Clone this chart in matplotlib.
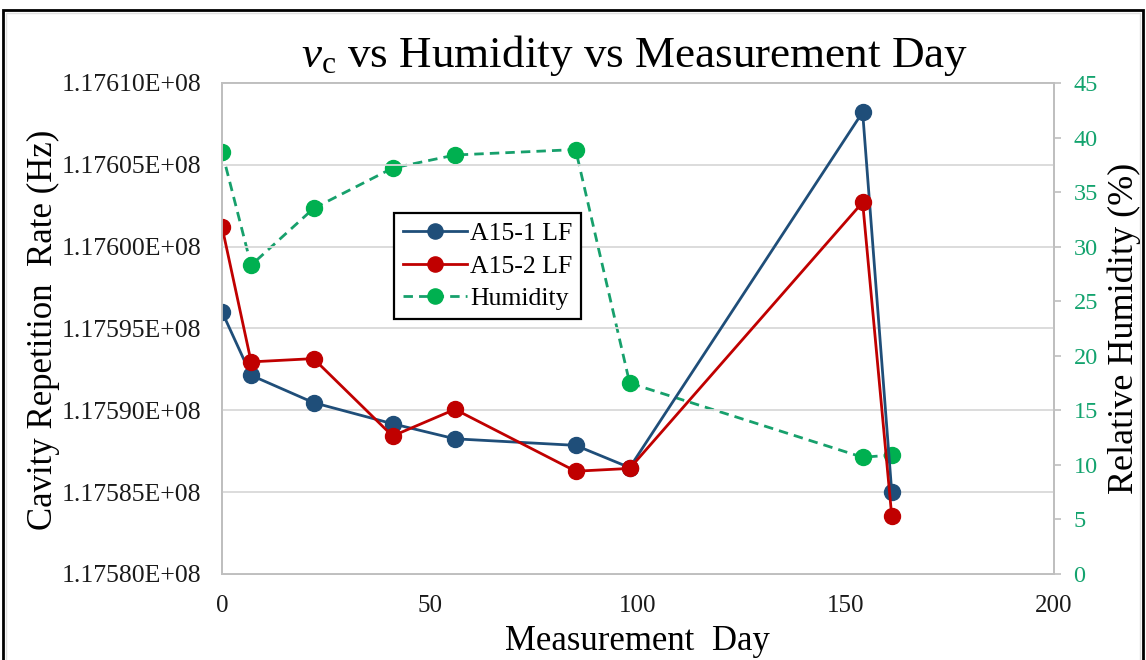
import matplotlib
matplotlib.use("Agg")
import matplotlib.pyplot as plt
from matplotlib.ticker import FuncFormatter, MultipleLocator
from matplotlib.patches import Rectangle

# ---- data ----
days = [0, 7, 22, 41, 56, 85, 98, 154, 161]
a15_1_lf = [117596020, 117592140, 117590470, 117589180, 117588260,
            117587860, 117586500, 117608220, 117585000]
a15_2_lf = [117601220, 117592960, 117593160, 117588430, 117590060,
            117586280, 117586450, 117602710, 117583530]
humidity = [38.7, 28.3, 33.5, 37.2, 38.4, 38.9, 17.5, 10.7, 10.9]

series_labels = ["A15-1 LF", "A15-2 LF", "Humidity"]
title = r"$\mathit{v}_\mathrm{c}$ vs Humidity vs Measurement Day"
xlabel = "Measurement  Day"
ylabel_left = "Cavity Repetition  Rate (Hz)"
ylabel_right = "Relative Humidity (%)"

# ---- style ----
plt.rcParams["font.family"] = ["Liberation Serif", "DejaVu Serif"]
plt.rcParams["mathtext.fontset"] = "custom"
plt.rcParams["mathtext.rm"] = "Liberation Serif"
plt.rcParams["mathtext.it"] = "Liberation Serif:italic"

BLUE = "#1F4E79"
RED = "#C00000"
GREEN_M = "#00B050"
GREEN_L = "#17A06C"
GREEN_T = "#13A36E"
GRID = "#D9D9D9"
SPINE = "#BFBFBF"
MS = 11.5

W, H = 1146, 660
fig = plt.figure(figsize=(W / 100, H / 100), dpi=100)
fig.patch.set_facecolor("white")

L, R, T, B = 222, 1054, 83, 574
ax2 = fig.add_axes([L / W, 1 - B / H, (R - L) / W, (B - T) / H])
ax = fig.add_axes([L / W, 1 - B / H, (R - L) / W, (B - T) / H], sharex=ax2)
ax.patch.set_visible(False)
ax2.set_zorder(1)
ax.set_zorder(2)

# humidity on the secondary (right) axis
h3, = ax2.plot(days, humidity, linestyle=(0, (3.4, 2.2)), color=GREEN_L, lw=2.0,
               marker="o", markersize=MS, markerfacecolor=GREEN_M,
               markeredgecolor=GREEN_M, label=series_labels[2])
ax2.set_ylim(0, 45)
ax2.yaxis.set_major_locator(MultipleLocator(5))
ax2.yaxis.tick_right()
ax2.tick_params(axis="y", colors=SPINE, labelcolor=GREEN_T, labelsize=17.5,
                length=5, width=1.2, pad=9)
ax2.tick_params(axis="x", length=0)

h1, = ax.plot(days, a15_1_lf, color=BLUE, lw=2.0, marker="o", markersize=MS,
              markerfacecolor=BLUE, markeredgecolor=BLUE, label=series_labels[0])
h2, = ax.plot(days, a15_2_lf, color=RED, lw=2.0, marker="o", markersize=MS,
              markerfacecolor=RED, markeredgecolor=RED, label=series_labels[1])

ax.set_xlim(0, 200)
ax.xaxis.set_major_locator(MultipleLocator(50))
ax.set_ylim(1.17580e8, 1.17610e8)
ax.yaxis.set_major_locator(MultipleLocator(5000))
ax.yaxis.set_major_formatter(FuncFormatter(lambda v, p: f"{v:.5E}"))
ax.tick_params(axis="y", length=0, labelsize=18.5, pad=15, labelcolor="#1a1a1a")
ax.tick_params(axis="x", length=0, labelsize=18, pad=15, labelcolor="#1a1a1a")
ax.grid(axis="y", color=GRID, lw=1.3)
ax.grid(axis="x", visible=False)
ax.set_axisbelow(True)
ax2.tick_params(axis="x", labelbottom=False)

for a in (ax, ax2):
    for s in a.spines.values():
        s.set_color(SPINE)
        s.set_linewidth(1.3)

leg = ax.legend(handles=[h1, h2, h3], loc="upper left",
                bbox_to_anchor=((394 - L) / (R - L), (B - 213) / (B - T)),
                borderaxespad=0, fontsize=18.5, frameon=True, fancybox=False,
                edgecolor="black", handlelength=2.5, handletextpad=0.1,
                labelspacing=0.38, borderpad=0.35, markerscale=0.95)
leg.get_frame().set_linewidth(1.6)
leg.get_frame().set_alpha(1)

# titles and axis labels
fig.text(635 / W, 1 - 55 / H, title, ha="center", va="center", fontsize=32.5)
fig.text(637 / W, 1 - 641 / H, xlabel, ha="center", va="center", fontsize=25)
fig.text(43 / W, 1 - 330 / H, ylabel_left, ha="center", va="center",
         rotation=90, fontsize=25)
fig.text(1124 / W, 1 - 328 / H, ylabel_right, ha="center", va="center",
         rotation=90, fontsize=26)

# outer chart border
fig.patches.append(Rectangle((3 / W, -0.02), (1143 - 3) / W, 1.02 - 10 / H,
                             transform=fig.transFigure, fill=False,
                             edgecolor="black", lw=2.0))
fig.patches.append(Rectangle((6 / W, -0.02), (1140 - 6) / W, 1.02 - 13 / H,
                             transform=fig.transFigure, fill=False,
                             edgecolor="#E0E0E0", lw=1.0))

fig.savefig("out.png", dpi=100, facecolor="white")
